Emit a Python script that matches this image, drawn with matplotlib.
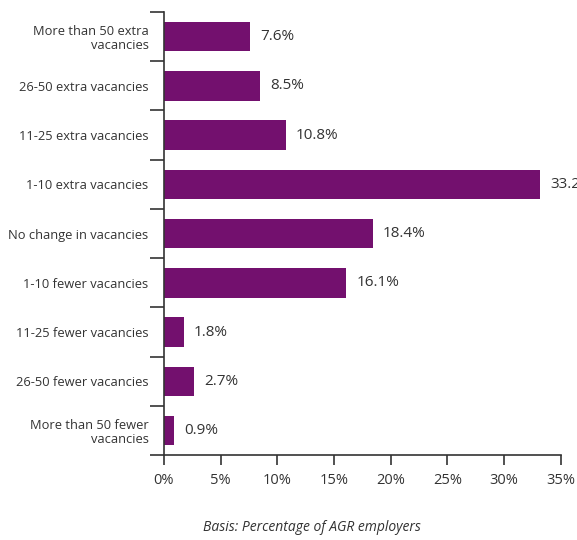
import numpy as np
import matplotlib.pyplot as plt

categories = ['More than 50 extra\nvacancies', '26-50 extra vacancies', '11-25 extra vacancies',
              '1-10 extra vacancies', 'No change in vacancies', '1-10 fewer vacancies',
              '11-25 fewer vacancies', '26-50 fewer vacancies', 'More than 50 fewer\nvacancies']
values = [7.6, 8.5, 10.8, 33.2, 18.4, 16.1, 1.8, 2.7, 0.9]
x_ticks = [0, 5, 10, 15, 20, 25, 30, 35]

plt.rcParams['font.family'] = ['Open Sans', 'DejaVu Sans']
ink = '#333333'
purple = '#73106e'

fig = plt.figure(figsize=(5.77, 5.40), dpi=100)
ax = fig.add_axes([0.284, 0.157, 0.688, 0.821])

y = np.arange(len(categories))
ax.barh(y, values, height=0.6, color=purple)
for yi, v in zip(y, values):
    ax.annotate(f'{v:.1f}%', (v, yi), xytext=(7, 0), textcoords='offset points',
                va='center', ha='left', fontsize=11, color=ink, annotation_clip=False)

ax.set_ylim(len(categories) - 0.5, -0.5)
ax.set_xlim(0, 35)
ax.set_yticks(y)
ax.set_yticklabels(categories, fontsize=9.3, color=ink, linespacing=1.1)
ax.tick_params(axis='y', which='major', length=0, pad=11)
ax.set_yticks(np.arange(-0.5, len(categories)), minor=True)
ax.tick_params(axis='y', which='minor', length=10, width=1.2, color=ink)

ax.set_xticks(x_ticks)
ax.set_xticklabels([f'{t}%' for t in x_ticks], fontsize=10.5, color=ink)
ax.tick_params(axis='x', length=7, width=1.2, color=ink, pad=6)

for s in ['top', 'right']:
    ax.spines[s].set_visible(False)
for s in ['left', 'bottom']:
    ax.spines[s].set_color(ink)
    ax.spines[s].set_linewidth(1.2)

fig.text(0.54, 0.017, 'Basis: Percentage of AGR employers', ha='center', va='baseline',
         fontsize=10, style='italic', color=ink)

fig.savefig('out.png', dpi=100)
